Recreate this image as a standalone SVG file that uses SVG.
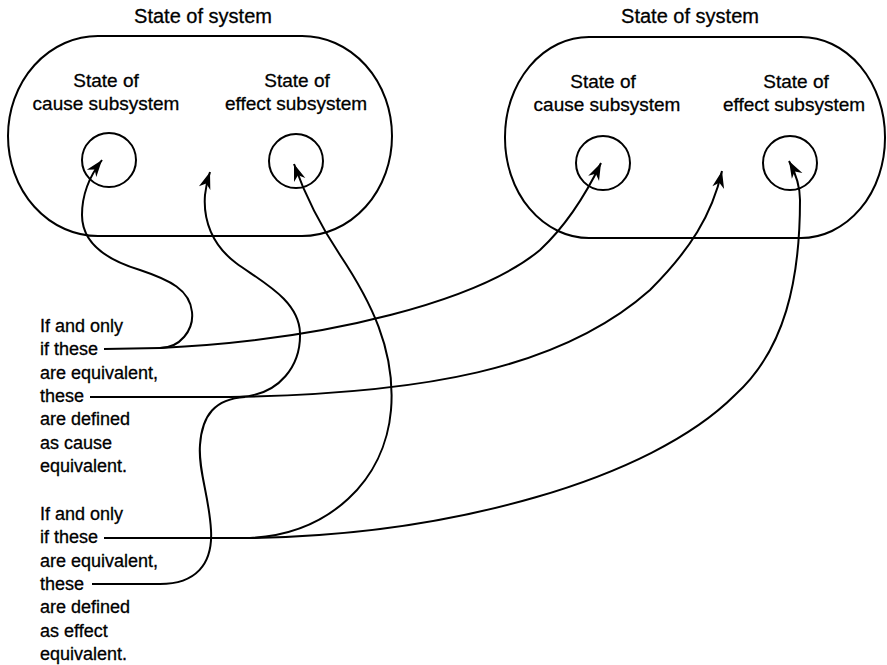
<svg xmlns="http://www.w3.org/2000/svg" width="887" height="665" viewBox="0 0 887 665">
<style>
.shape{fill:none;stroke:#000;stroke-width:2}
.con{fill:none;stroke:#000;stroke-width:2}
.t{font-family:"Liberation Sans",Arial,sans-serif;fill:#000;stroke:#000;stroke-width:0.3}
.title{font-size:20px;text-anchor:middle}
.lab{font-size:19px;text-anchor:middle}
.side{font-size:18px}
</style>
<defs>
<marker id="ah" markerUnits="userSpaceOnUse" markerWidth="20" markerHeight="14" refX="1" refY="0" orient="auto" viewBox="-18 -7 20 14">
<path d="M1,0 L-16,-6 L-11,0 L-16,6 Z" fill="#000"/>
</marker>
</defs>
<rect width="887" height="665" fill="#fff"/>
<g id="system1">
<rect class="shape" x="8" y="36" width="384" height="200" rx="90" ry="100"/>
<text class="t title" x="203" y="23">State of system</text>
</g>
<g id="cause1">
<circle class="shape" cx="109" cy="160" r="27"/>
<text class="t lab" x="106" y="87">State of</text>
<text class="t lab" x="106" y="110">cause subsystem</text>
</g>
<g id="effect1">
<circle class="shape" cx="296" cy="161" r="27"/>
<text class="t lab" x="297" y="87">State of</text>
<text class="t lab" x="296" y="110">effect subsystem</text>
</g>
<g id="system2">
<rect class="shape" x="505" y="37" width="380" height="201" rx="84" ry="100"/>
<text class="t title" x="690" y="23">State of system</text>
</g>
<g id="cause2">
<circle class="shape" cx="603" cy="163" r="27"/>
<text class="t lab" x="603" y="88">State of</text>
<text class="t lab" x="607" y="111">cause subsystem</text>
</g>
<g id="effect2">
<circle class="shape" cx="790" cy="163" r="27"/>
<text class="t lab" x="796" y="88">State of</text>
<text class="t lab" x="794" y="111">effect subsystem</text>
</g>
<g id="cause-text">
<text class="t side" x="40" y="332">If and only</text>
<text class="t side" x="40" y="355">if these</text>
<text class="t side" x="40" y="378.5">are equivalent,</text>
<text class="t side" x="40" y="402">these</text>
<text class="t side" x="40" y="425">are defined</text>
<text class="t side" x="40" y="448.5">as cause</text>
<text class="t side" x="40" y="472">equivalent.</text>
</g>
<g id="effect-text">
<text class="t side" x="40" y="520">If and only</text>
<text class="t side" x="40" y="543">if these</text>
<text class="t side" x="40" y="566.5">are equivalent,</text>
<text class="t side" x="40" y="590">these</text>
<text class="t side" x="40" y="613">are defined</text>
<text class="t side" x="40" y="636.5">as effect</text>
<text class="t side" x="40" y="660">equivalent.</text>
</g>
<g id="connectors">
<path class="con" d="M104,349 L160,348 C180,348 194,330 192,312 C190,290 170,280 140,270 C100,258 82,240 82,215 C82,195 88,178 102,160" marker-end="url(#ah)"/>
<path class="con" d="M160,348 C330,340 480,300 540,250 C570,222 588,190 601,163" marker-end="url(#ah)"/>
<path class="con" d="M90,397 L230,397 C420,394 560,370 650,290 C690,250 712,215 722,171" marker-end="url(#ah)"/>
<path class="con" d="M240,397 C280,395 301,365 300,333 C299,300 262,282 236,263 C212,245 203,220 205,195 C206,185 208,178 210,172" marker-end="url(#ah)"/>
<path class="con" d="M92,584 L160,584 C195,584 213,565 211,530 C209,495 198,470 200,445 C202,415 215,399 245,397"/>
<path class="con" d="M104,538 L250,538 C450,535 650,480 735,395 C785,350 800,280 800,200 C800,185 795,172 789,161" marker-end="url(#ah)"/>
<path class="con" d="M250,538 C330,534 385,480 391,410 C396,350 370,300 340,255 C320,225 305,195 294,164" marker-end="url(#ah)"/>
</g>
</svg>
